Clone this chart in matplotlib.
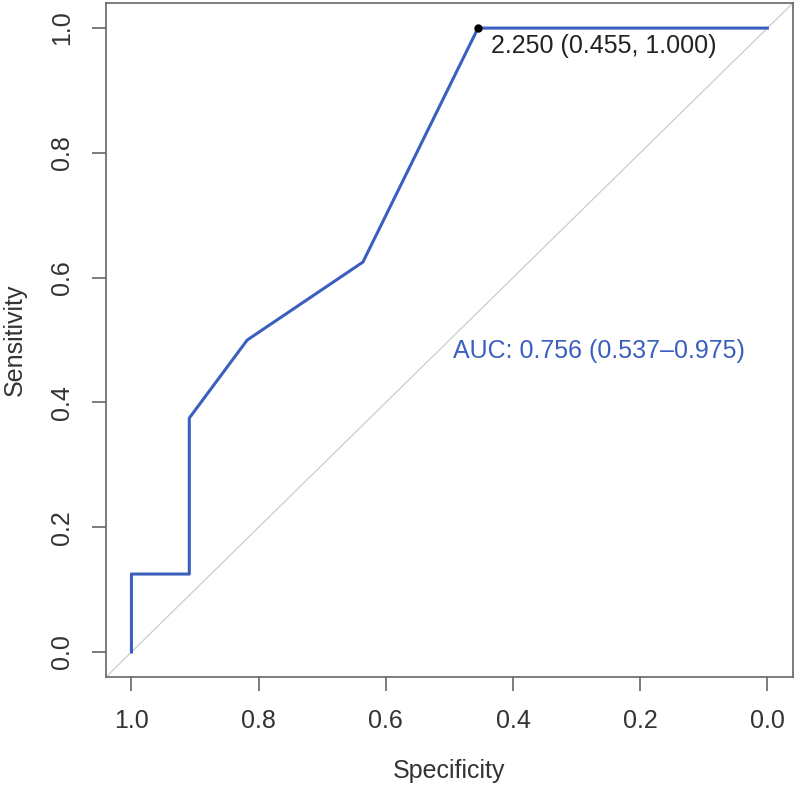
import matplotlib
matplotlib.use('Agg')
from matplotlib import pyplot as plt

plt.rcParams['font.family'] = ['Liberation Sans', 'DejaVu Sans']

# ROC curve points (specificity, sensitivity)
specificity = [1.0, 1.0, 0.909, 0.909, 0.818, 0.636, 0.455, 0.0]
sensitivity = [0.0, 0.125, 0.125, 0.375, 0.5, 0.625, 1.0, 1.0]

best_thres = 2.250
best_spec, best_sens = 0.455, 1.000
auc, auc_lo, auc_hi = 0.756, 0.537, 0.975

ticks = [1.0, 0.8, 0.6, 0.4, 0.2, 0.0]
yticks = [0.0, 0.2, 0.4, 0.6, 0.8, 1.0]

fig = plt.figure(figsize=(8, 7.85), dpi=100)
ax = fig.add_axes([0.1325, 0.1376, 0.8585, 0.8584])

ax.axline((1, 0), (0, 1), color='#cccccc', lw=0.9, zorder=1)
ax.plot(specificity, sensitivity, color='#3a5fbf', lw=2.2, zorder=2)
ax.plot([best_spec], [best_sens], 'o', color='black', ms=5, zorder=3)
ax.text(best_spec - 0.02, best_sens - 0.01,
        '%.3f (%.3f, %.3f)' % (best_thres, best_spec, best_sens),
        ha='left', va='top', fontsize=18, color='#222222')
ax.text(0.495, 0.482, 'AUC: %.3f (%.3f\u2013%.3f)' % (auc, auc_lo, auc_hi),
        ha='left', va='center', fontsize=18, color='#3a5fbf')

ax.set_xlim(1.04, -0.04)
ax.set_ylim(-0.04, 1.04)
ax.set_xticks(ticks)
ax.set_xticklabels(['%.1f' % t for t in ticks])
ax.set_yticks(yticks)
ax.set_yticklabels(['%.1f' % t for t in yticks], rotation=90, va='center')

for s in ax.spines.values():
    s.set_color('#666666')
    s.set_linewidth(1.2)
ax.tick_params(direction='out', length=10, width=1.2, color='#666666',
               labelsize=18, labelcolor='#333333', pad=13)
ax.set_xlabel('Specificity', fontsize=18, color='#333333', labelpad=19)
ax.set_ylabel('Sensitivity', fontsize=18, color='#333333', labelpad=17)

fig.savefig('out.png', dpi=100)
